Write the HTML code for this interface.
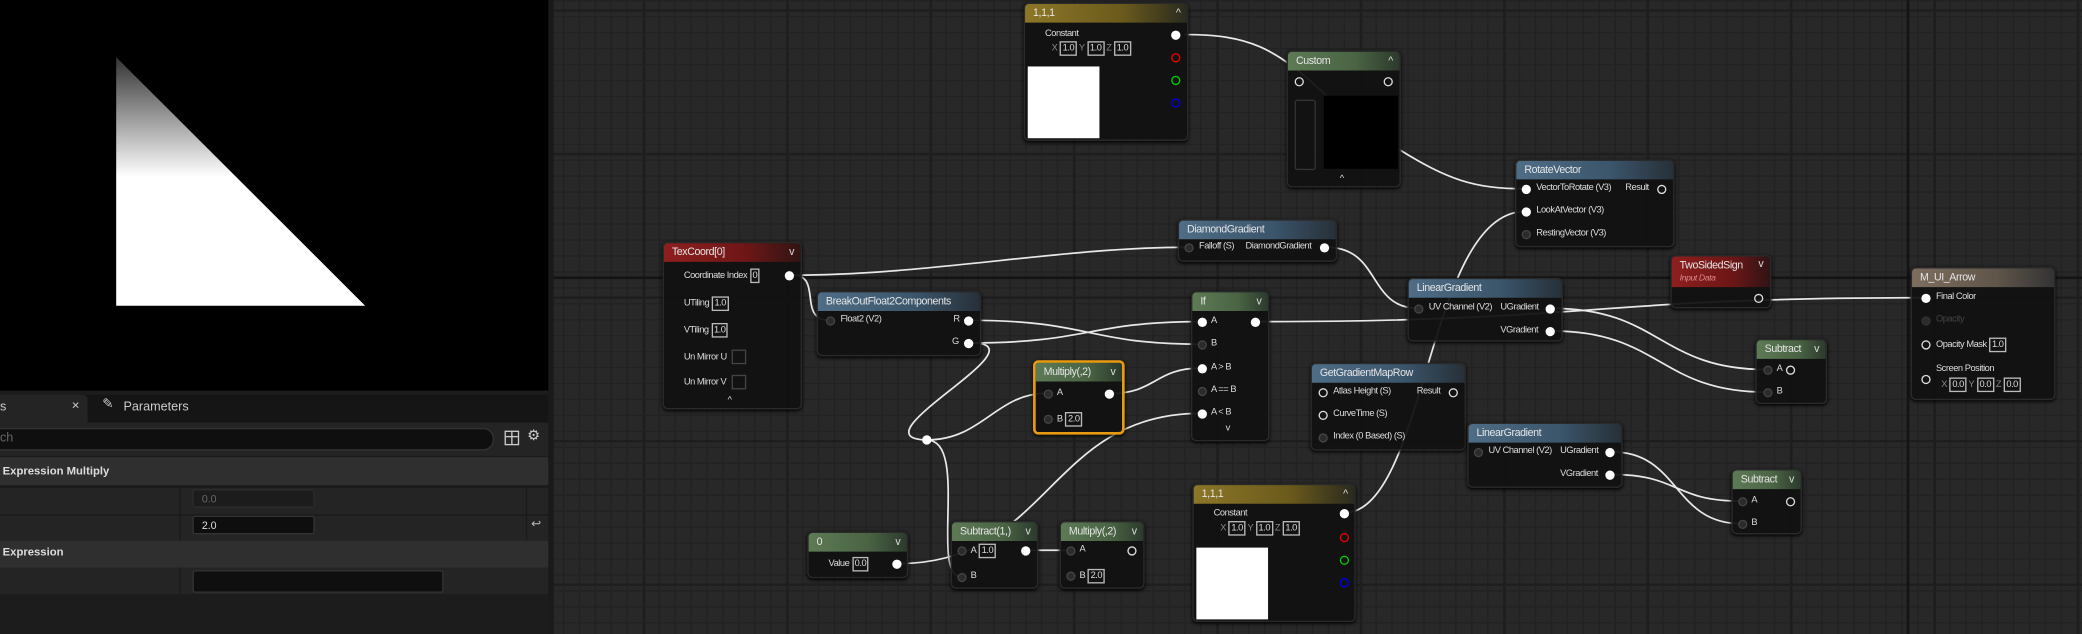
<!DOCTYPE html>
<html><head><meta charset="utf-8"><style>
html,body{margin:0;padding:0;width:2082px;height:634px;overflow:hidden;background:#262626;}
#w{position:absolute;left:0;top:0;width:1568px;height:477px;transform:scale(1.32781,1.32914);transform-origin:0 0;font-family:"Liberation Sans",sans-serif;}
#g{position:absolute;left:413px;top:0;width:1155px;height:477px;background-color:#282828;
background-image:
linear-gradient(90deg,transparent 106px,#1e1e1e 106px,#1e1e1e 108px),
linear-gradient(0deg,transparent 106px,#1e1e1e 106px,#1e1e1e 108px),
linear-gradient(90deg,transparent 11px,#222 11px),
linear-gradient(0deg,transparent 11px,#222 11px);
background-size:108px 108px,108px 108px,12px 12px,12px 12px;
background-position:-467px -101px,-467px -101px,0 0,0 0;}
.n{position:absolute;background:rgba(16,17,16,.94);border-radius:4px;box-shadow:0 1px 3px #000;border:1px solid #2a2a2a;box-sizing:border-box}
.h{position:absolute;left:0;right:0;top:0;height:14px;border-radius:3px 3px 0 0;color:#e6e6e6;font-size:8px;letter-spacing:-0.3px;padding-left:6px;line-height:14px;box-sizing:border-box}
.gold{background:linear-gradient(90deg,#8c7627,#6a5a1c 60%,#2a2a1e)}
.grn{background:linear-gradient(90deg,#5d7a55,#4a6444 60%,#2c3a2c)}
.blu{background:linear-gradient(90deg,#4e6d86,#3b556b 60%,#263038)}
.red{background:linear-gradient(90deg,#8e1f1f,#6e1616 60%,#301414)}
.brn{background:linear-gradient(90deg,#7d6e5e,#5f554a 60%,#333)}
.ar{position:absolute;right:5px;top:0;font-size:8px;color:#ddd}
.t{position:absolute;font-size:7px;letter-spacing:-0.35px;color:#ddd;white-space:nowrap;line-height:10px}
.p,.o,.d{position:absolute;width:7px;height:7px;border-radius:50%;margin:-3.5px 0 0 -3.5px;box-sizing:border-box}
.p{background:#fff}
.o{border:1.5px solid #ddd}
.d{border:1.5px solid #444;background:#2b2b2b}
.b{display:inline-block;border:1px solid #bbb;padding:0 1px;line-height:9px;font-size:7px;margin-left:2px}
.ck{display:inline-block;width:9px;height:9px;border:1px solid #444;vertical-align:middle;margin-left:4px}
</style></head><body><div id="w">
<div id="g"></div>
<!-- left panel -->
<div style="position:absolute;left:0;top:0;width:413px;height:294px;background:#000"></div>
<svg style="position:absolute;left:0;top:0" width="413" height="294"><defs><linearGradient id="tg" x1="0" y1="43" x2="0" y2="133" gradientUnits="userSpaceOnUse"><stop offset="0" stop-color="#333"/><stop offset="1" stop-color="#fff"/></linearGradient></defs><polygon points="87.5,43 87.5,230 275,230" fill="url(#tg)"/></svg>
<div style="position:absolute;left:0;top:294px;width:413px;height:183px;background:#1c1c1c"></div>
<div style="position:absolute;left:0;top:297px;width:413px;height:21px;background:#151515"></div>
<div style="position:absolute;left:0;top:297px;width:66px;height:21px;background:#242424;border-radius:0 4px 0 0"></div>
<div style="position:absolute;left:0;top:301px;font-size:9.5px;color:#ccc">s</div>
<div style="position:absolute;left:54px;top:300px;font-size:10px;color:#ccc">×</div>
<div style="position:absolute;left:77px;top:299px;font-size:10px;color:#ccc">✎</div>
<div style="position:absolute;left:93px;top:301px;font-size:9.5px;color:#ccc">Parameters</div>
<div style="position:absolute;left:0;top:318px;width:413px;height:25px;background:#242424"></div>
<div style="position:absolute;left:-10px;top:322px;width:380px;height:15px;background:#0f0f0f;border:1px solid #333;border-radius:8px"></div>
<div style="position:absolute;left:0;top:324px;font-size:9.5px;color:#666">ch</div>
<div style="position:absolute;left:380px;top:324px;width:9px;height:9px;border:1px solid #ccc;background:linear-gradient(#ccc 0 0) 0 3px/100% 1px no-repeat,linear-gradient(#ccc 0 0) 4px 0/1px 100% no-repeat"></div>
<div style="position:absolute;left:397px;top:321px;font-size:11px;color:#ccc">⚙</div>
<div style="position:absolute;left:0;top:344px;width:413px;height:21px;background:#2f2f2f"></div>
<div style="position:absolute;left:2px;top:349px;font-size:8.5px;color:#ddd;font-weight:bold">Expression Multiply</div>
<div style="position:absolute;left:0;top:366px;width:413px;height:20px;background:#242424;border-top:1px solid #1a1a1a"></div>
<div style="position:absolute;left:0;top:387px;width:413px;height:19px;background:#242424;border-top:1px solid #1a1a1a"></div>
<div style="position:absolute;left:135px;top:366px;width:1px;height:40px;background:#1a1a1a"></div>
<div style="position:absolute;left:396px;top:366px;width:1px;height:40px;background:#1a1a1a"></div>
<div style="position:absolute;left:145px;top:368px;width:92px;height:14px;background:#1c1c1c;border:1px solid #2c2c2c;border-radius:2px;font-size:8px;color:#666;line-height:14px;padding-left:6px;box-sizing:border-box">0.0</div>
<div style="position:absolute;left:145px;top:388px;width:92px;height:14px;background:#0e0e0e;border:1px solid #333;border-radius:2px;font-size:8px;color:#ddd;line-height:14px;padding-left:6px;box-sizing:border-box">2.0</div>
<div style="position:absolute;left:400px;top:389px;font-size:9px;color:#bbb">↩</div>
<div style="position:absolute;left:0;top:407px;width:413px;height:20px;background:#2f2f2f"></div>
<div style="position:absolute;left:2px;top:410px;font-size:8.5px;color:#ddd;font-weight:bold">Expression</div>
<div style="position:absolute;left:0;top:427px;width:413px;height:20px;background:#242424"></div>
<div style="position:absolute;left:135px;top:427px;width:1px;height:20px;background:#1a1a1a"></div>
<div style="position:absolute;left:145px;top:429px;width:187px;height:15px;background:#0f0f0f;border:1px solid #333;border-radius:2px"></div>
<div style="position:absolute;left:413px;top:0;width:4px;height:477px;background:#1a1a1a"></div>
<!-- major strong lines -->
<div style="position:absolute;left:417px;top:208px;width:1151px;height:2px;background:#141414"></div>
<div style="position:absolute;left:1436px;top:0;width:2px;height:477px;background:#141414"></div>

<!-- wires -->
<svg style="position:absolute;left:0;top:0" width="1568" height="477" fill="none" stroke="#e8e8e8" stroke-width="1.3">
<path d="M892,26 C940,26 960,35 1000,73"/>
<path d="M1053,112 C1090,135 1110,142 1148,142"/>
<path d="M597,207 C700,207 800,186 894,186"/>
<path d="M597,207 C620,207 600,241 625,241"/>
<path d="M731,241 C820,241 820,259 904,259"/>
<path d="M731,258 C820,258 820,242 904,242"/>
<path d="M731,258 C790,258 640,330 698,331"/>
<path d="M698,331 C740,331 750,296 788,296"/>
<path d="M698,331 C730,331 700,434 724,434"/>
<path d="M837,296 C870,296 870,277 904,277"/>
<path d="M677,424 C790,424 790,311 904,311"/>
<path d="M774,414 L806,414"/>
<path d="M947,242 C1200,242 1200,224 1447,224"/>
<path d="M999,186 C1040,186 1030,232 1068,232"/>
<path d="M1169,232 C1250,232 1250,278 1330,278"/>
<path d="M1169,249 C1250,249 1250,295 1330,295"/>
<path d="M1214,340 C1265,340 1260,394 1311,394"/>
<path d="M1214,357 C1265,357 1260,377 1311,377"/>
<path d="M1014,386 C1075,380 1075,159 1149,159"/>
<circle cx="698" cy="331" r="3.5" fill="#fff" stroke="none"/>
</svg>

<!-- 1,1,1 top -->
<div class="n" style="left:771px;top:2px;width:124px;height:104px"><div class="h gold">1,1,1<span class="ar">^</span></div></div>
<div class="t" style="left:787px;top:21px">Constant</div>
<div class="t" style="left:792px;top:31px;color:#888">X<span class="b" style="color:#ddd">1.0</span> Y<span class="b" style="color:#ddd">1.0</span> Z<span class="b" style="color:#ddd">1.0</span></div>
<div style="position:absolute;left:774px;top:50px;width:54px;height:54px;background:#fff"></div>
<div class="p" style="left:885px;top:26px"></div>
<div class="o" style="left:885px;top:43px;border-color:#e00"></div>
<div class="o" style="left:885px;top:60px;border-color:#0c0"></div>
<div class="o" style="left:885px;top:77px;border-color:#00e"></div>

<!-- Custom -->
<div class="n" style="left:969px;top:38px;width:86px;height:103px"><div class="h grn">Custom<span class="ar">^</span></div></div>
<div class="o" style="left:978px;top:61px"></div><div class="o" style="left:1045px;top:61px"></div>
<div style="position:absolute;left:975px;top:75px;width:14px;height:51px;border:1px solid #333;border-radius:2px;background:#121212"></div>
<div style="position:absolute;left:997px;top:72px;width:56px;height:55px;background:#000"></div>
<div class="t" style="left:1009px;top:130px">^</div>

<!-- RotateVector -->
<div class="n" style="left:1141px;top:120px;width:120px;height:66px"><div class="h blu">RotateVector</div></div>
<div class="p" style="left:1149px;top:142px"></div><div class="t" style="left:1157px;top:137px">VectorToRotate (V3)</div><div class="t" style="left:1224px;top:137px">Result</div><div class="o" style="left:1251px;top:142px"></div>
<div class="p" style="left:1149px;top:159px"></div><div class="t" style="left:1157px;top:154px">LookAtVector (V3)</div>
<div class="d" style="left:1149px;top:176px"></div><div class="t" style="left:1157px;top:171px">RestingVector (V3)</div>

<!-- DiamondGradient -->
<div class="n" style="left:887px;top:165px;width:120px;height:32px"><div class="h blu">DiamondGradient</div></div>
<div class="d" style="left:895px;top:186px"></div><div class="t" style="left:903px;top:181px">Falloff (S)</div><div class="t" style="left:938px;top:181px">DiamondGradient</div><div class="p" style="left:997px;top:186px"></div>

<!-- TexCoord -->
<div class="n" style="left:499px;top:182px;width:105px;height:126px"><div class="h red">TexCoord[0]<span class="ar">v</span></div></div>
<div class="t" style="left:515px;top:202px">Coordinate Index<span class="b">0</span></div><div class="p" style="left:594px;top:207px"></div>
<div class="t" style="left:515px;top:223px">UTiling<span class="b">1.0</span></div>
<div class="t" style="left:515px;top:243px">VTiling<span class="b">1.0</span></div>
<div class="t" style="left:515px;top:263px">Un Mirror U<span class="ck"></span></div>
<div class="t" style="left:515px;top:282px">Un Mirror V<span class="ck"></span></div>
<div class="t" style="left:548px;top:297px">^</div>

<!-- BreakOut -->
<div class="n" style="left:615px;top:219px;width:124px;height:49px"><div class="h blu">BreakOutFloat2Components</div></div>
<div class="d" style="left:625px;top:241px"></div><div class="t" style="left:633px;top:236px">Float2 (V2)</div>
<div class="t" style="left:718px;top:236px">R</div><div class="p" style="left:729px;top:241px"></div>
<div class="t" style="left:717px;top:253px">G</div><div class="p" style="left:729px;top:258px"></div>

<!-- If -->
<div class="n" style="left:897px;top:219px;width:59px;height:113px"><div class="h grn">If<span class="ar">v</span></div></div>
<div class="p" style="left:905px;top:242px"></div><div class="t" style="left:912px;top:237px">A</div><div class="p" style="left:945px;top:242px"></div>
<div class="d" style="left:905px;top:259px"></div><div class="t" style="left:912px;top:254px">B</div>
<div class="p" style="left:905px;top:277px"></div><div class="t" style="left:912px;top:272px">A &gt; B</div>
<div class="d" style="left:905px;top:294px"></div><div class="t" style="left:912px;top:289px">A == B</div>
<div class="p" style="left:905px;top:311px"></div><div class="t" style="left:912px;top:306px">A &lt; B</div>
<div class="t" style="left:923px;top:318px">v</div>

<!-- Multiply selected -->
<div class="n" style="left:778px;top:271px;width:69px;height:56px;border:2px solid #e89a10"><div class="h grn" style="border-radius:2px 2px 0 0">Multiply(,2)<span class="ar">v</span></div></div>
<div class="d" style="left:789px;top:296px"></div><div class="t" style="left:796px;top:291px">A</div><div class="p" style="left:835px;top:296px"></div>
<div class="d" style="left:789px;top:315px"></div><div class="t" style="left:796px;top:310px">B<span class="b">2.0</span></div>

<!-- GetGradientMapRow -->
<div class="n" style="left:987px;top:273px;width:117px;height:66px"><div class="h blu">GetGradientMapRow</div></div>
<div class="o" style="left:996px;top:295px"></div><div class="t" style="left:1004px;top:290px">Atlas Height (S)</div><div class="t" style="left:1067px;top:290px">Result</div><div class="o" style="left:1094px;top:295px"></div>
<div class="o" style="left:996px;top:312px"></div><div class="t" style="left:1004px;top:307px">CurveTime (S)</div>
<div class="d" style="left:996px;top:329px"></div><div class="t" style="left:1004px;top:324px">Index (0 Based) (S)</div>

<!-- LinearGradient 1 -->
<div class="n" style="left:1060px;top:209px;width:117px;height:48px"><div class="h blu">LinearGradient</div></div>
<div class="d" style="left:1068px;top:232px"></div><div class="t" style="left:1076px;top:227px">UV Channel (V2)</div><div class="t" style="left:1130px;top:227px">UGradient</div><div class="p" style="left:1167px;top:232px"></div>
<div class="t" style="left:1130px;top:244px">VGradient</div><div class="p" style="left:1167px;top:249px"></div>

<!-- TwoSidedSign -->
<div class="n" style="left:1258px;top:192px;width:76px;height:40px"><div class="h red" style="height:23px;line-height:12px;padding-top:1px">TwoSidedSign<span class="ar">v</span><div style="font-size:6.5px;color:#d88;font-style:italic;line-height:8px">Input Data</div></div></div>
<div class="o" style="left:1324px;top:224px"></div>

<!-- M_UI_Arrow -->
<div class="n" style="left:1439px;top:201px;width:109px;height:100px"><div class="h brn">M_UI_Arrow</div></div>
<div class="p" style="left:1450px;top:224px"></div><div class="t" style="left:1458px;top:219px">Final Color</div>
<div class="d" style="left:1450px;top:241px;border-color:#333"></div><div class="t" style="left:1458px;top:236px;color:#444">Opacity</div>
<div class="o" style="left:1450px;top:259px"></div><div class="t" style="left:1458px;top:254px">Opacity Mask<span class="b">1.0</span></div>
<div class="t" style="left:1458px;top:273px">Screen Position</div>
<div class="o" style="left:1450px;top:285px"></div><div class="t" style="left:1462px;top:284px;color:#888">X<span class="b" style="color:#ddd">0.0</span> Y<span class="b" style="color:#ddd">0.0</span> Z<span class="b" style="color:#ddd">0.0</span></div>

<!-- Subtract 1 -->
<div class="n" style="left:1322px;top:255px;width:54px;height:49px"><div class="h grn">Subtract<span class="ar">v</span></div></div>
<div class="d" style="left:1331px;top:278px"></div><div class="t" style="left:1338px;top:273px">A</div><div class="o" style="left:1348px;top:278px"></div>
<div class="d" style="left:1331px;top:295px"></div><div class="t" style="left:1338px;top:290px">B</div>

<!-- LinearGradient 2 -->
<div class="n" style="left:1105px;top:318px;width:117px;height:49px"><div class="h blu">LinearGradient</div></div>
<div class="d" style="left:1113px;top:340px"></div><div class="t" style="left:1121px;top:335px">UV Channel (V2)</div><div class="t" style="left:1175px;top:335px">UGradient</div><div class="p" style="left:1212px;top:340px"></div>
<div class="t" style="left:1175px;top:352px">VGradient</div><div class="p" style="left:1212px;top:357px"></div>

<!-- Subtract 2 -->
<div class="n" style="left:1304px;top:353px;width:53px;height:49px"><div class="h grn">Subtract<span class="ar">v</span></div></div>
<div class="d" style="left:1312px;top:377px"></div><div class="t" style="left:1319px;top:372px">A</div><div class="o" style="left:1348px;top:377px"></div>
<div class="d" style="left:1312px;top:394px"></div><div class="t" style="left:1319px;top:389px">B</div>

<!-- 1,1,1 bottom -->
<div class="n" style="left:898px;top:364px;width:123px;height:104px"><div class="h gold">1,1,1<span class="ar">^</span></div></div>
<div class="t" style="left:914px;top:382px">Constant</div>
<div class="t" style="left:919px;top:392px;color:#888">X<span class="b" style="color:#ddd">1.0</span> Y<span class="b" style="color:#ddd">1.0</span> Z<span class="b" style="color:#ddd">1.0</span></div>
<div style="position:absolute;left:901px;top:412px;width:54px;height:54px;background:#fff"></div>
<div class="p" style="left:1012px;top:386px"></div>
<div class="o" style="left:1012px;top:404px;border-color:#e00"></div>
<div class="o" style="left:1012px;top:421px;border-color:#0c0"></div>
<div class="o" style="left:1012px;top:438px;border-color:#00e"></div>

<!-- 0 -->
<div class="n" style="left:608px;top:400px;width:76px;height:35px"><div class="h grn">0<span class="ar">v</span></div></div>
<div class="t" style="left:624px;top:419px">Value<span class="b">0.0</span></div><div class="p" style="left:675px;top:424px"></div>

<!-- Subtract(1,) -->
<div class="n" style="left:716px;top:392px;width:66px;height:51px"><div class="h grn">Subtract(1,)<span class="ar">v</span></div></div>
<div class="d" style="left:724px;top:414px"></div><div class="t" style="left:731px;top:409px">A<span class="b">1.0</span></div><div class="p" style="left:772px;top:414px"></div>
<div class="d" style="left:724px;top:434px"></div><div class="t" style="left:731px;top:429px">B</div>

<!-- Multiply bottom -->
<div class="n" style="left:798px;top:392px;width:64px;height:51px"><div class="h grn">Multiply(,2)<span class="ar">v</span></div></div>
<div class="d" style="left:806px;top:414px"></div><div class="t" style="left:813px;top:409px">A</div><div class="o" style="left:852px;top:414px"></div>
<div class="d" style="left:806px;top:433px"></div><div class="t" style="left:813px;top:428px">B<span class="b">2.0</span></div>
</div></body></html>
